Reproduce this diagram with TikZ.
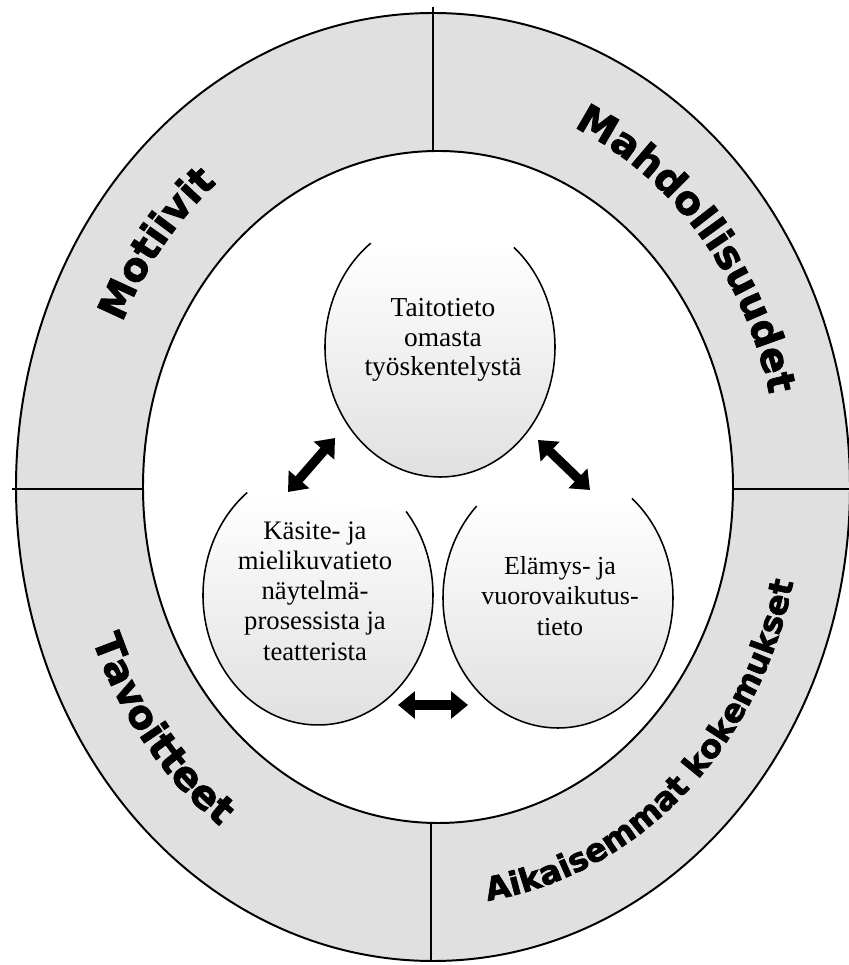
\documentclass[tikz,border=0pt]{standalone}
\usepackage{fontspec}
\setmainfont{Liberation Serif}
\newfontfamily\ringfamily{DejaVu Sans Bold}[FakeBold=2]
\newcommand\ringfont{\ringfamily\fontsize{28}{30}\selectfont}
\newcommand\ringfontsm{\ringfamily\fontsize{23}{25}\selectfont}
\usetikzlibrary{arrows.meta,decorations.text}

\begin{document}
\begin{tikzpicture}[
  ringline/.style={line width=1.4pt},
  lobeline/.style={line width=1.1pt},
  ringshade/.style={fill=black!12},
  lobeshade/.style={top color=white, bottom color=black!13},
  dblarrow/.style={line width=2.3mm, >={Triangle[width=6.6mm,length=4.2mm]}, <->},
  lobetext/.style={align=center, inner sep=0pt},
  ringtext/.style={decorate, decoration={text along path, text align=center, text={#1}}}
]

\useasboundingbox (0,0) rectangle (21.225,24.125);

% Centres of the two rings and of the ring texts
\coordinate (O) at (10.825,11.95);
\coordinate (I) at (10.95,11.95);
\coordinate (T) at (10.875,11.95);

% Centres of the three lobes
\coordinate (ct) at (11.0,15.45);
\coordinate (cl) at (7.95,9.25);
\coordinate (cr) at (13.95,9.175);

% Shaded ring between the two ellipses
\fill[ringshade, even odd rule] (O) ellipse [x radius=10.425, y radius=11.85]
  (I) ellipse [x radius=7.375, y radius=8.4];

% Shaded lobes
\shade[lobeshade] ([shift={(ct)}]127:2.875 and 3.25) arc[start angle=127, end angle=410, x radius=2.875, y radius=3.25] -- cycle;
\shade[lobeshade] ([shift={(cl)}]128:2.875 and 3.25) arc[start angle=128, end angle=400, x radius=2.875, y radius=3.25] -- cycle;
\shade[lobeshade] ([shift={(cr)}]135:2.875 and 3.25) arc[start angle=135, end angle=410, x radius=2.875, y radius=3.25] -- cycle;

% Outer and inner ellipse
\draw[ringline] (O) ellipse [x radius=10.425, y radius=11.85];
\draw[ringline] (I) ellipse [x radius=7.375, y radius=8.4];

% Dividing lines of the ring
\draw[ringline] (10.825,23.95) -- (10.825,20.33);
\draw[ringline] (10.775,3.55) -- (10.775,0.075);
\draw[ringline] (0.3,11.9) -- (3.575,11.9);
\draw[ringline] (18.325,11.9) -- (21.225,11.9);

% Open lobes
\draw[lobeline] (ct) ++(127:2.875 and 3.25) arc[start angle=127, end angle=410, x radius=2.875, y radius=3.25];
\draw[lobeline] (cl) ++(128:2.875 and 3.25) arc[start angle=128, end angle=400, x radius=2.875, y radius=3.25];
\draw[lobeline] (cr) ++(135:2.875 and 3.25) arc[start angle=135, end angle=410, x radius=2.875, y radius=3.25];

% Lobe texts
\node[lobetext, font=\fontsize{19.5}{21}\selectfont] (taito) at (11.075,15.62) {Taitotieto\\omasta\\työskentelystä};
\node[lobetext, font=\fontsize{19}{21.5}\selectfont] (kasite) at (7.875,9.35) {Käsite- ja\\mielikuvatieto\\näytelmä-\\prosessista ja\\teatterista};
\node[lobetext, font=\fontsize{18.5}{21.5}\selectfont] (elamys) at (14.0,9.225) {Elämys- ja\\vuorovaikutus-\\tieto};

% Arrow ends
\coordinate (al1) at (7.2,11.825);
\coordinate (al2) at (8.375,13.175);
\coordinate (ar1) at (13.45,13.125);
\coordinate (ar2) at (14.75,11.875);
\coordinate (ab1) at (9.95,6.5);
\coordinate (ab2) at (11.7,6.5);

% Double arrows between the lobes
\draw[dblarrow] (al1) -- (al2);
\draw[dblarrow] (ar1) -- (ar2);
\draw[dblarrow] (ab1) -- (ab2);

% Texts along the ring
\path[ringtext={|\ringfont|Motiivit}] ([shift={(T)}]181:8.6 and 9.825) arc[start angle=181, end angle=101, x radius=8.6, y radius=9.825];
\path[ringtext={|\ringfont|Mahdollisuudet}] ([shift={(T)}]102:8.6 and 9.825) arc[start angle=102, end angle=-18, x radius=8.6, y radius=9.825];
\path[ringtext={|\ringfont|Tavoitteet}] ([shift={(T)}]179:9.2 and 10.45) arc[start angle=179, end angle=259, x radius=9.2, y radius=10.45];
\path[ringtext={|\ringfontsm|Aikaisemmat kokemukset}] ([shift={(T)}]251:9.2 and 10.45) arc[start angle=251, end angle=371, x radius=9.2, y radius=10.45];

\end{tikzpicture}
\end{document}
